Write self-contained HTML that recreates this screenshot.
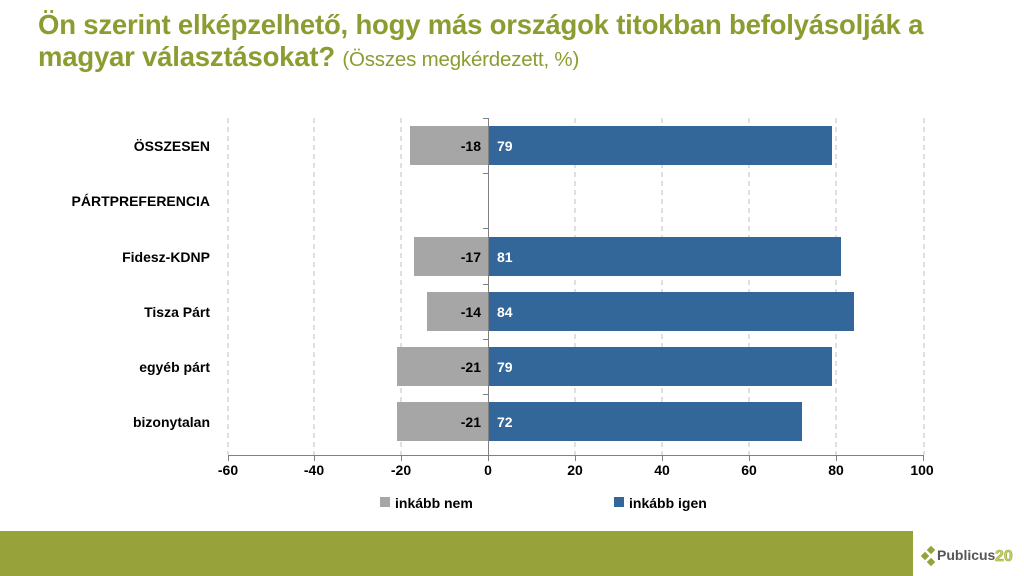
<!DOCTYPE html>
<html><head><meta charset="utf-8"><style>
body{margin:0;width:1024px;height:576px;background:#fff;overflow:hidden;position:relative;font-family:"Liberation Sans",sans-serif}
.t{position:absolute;left:38px;top:9px;color:#8c9c30;font-weight:bold;font-size:27.5px;line-height:32px;letter-spacing:-0.2px}
.t span{font-weight:normal;font-size:20.5px}
</style></head><body>
<div class="t">Ön szerint elképzelhető, hogy más országok titokban befolyásolják a<br>magyar választásokat? <span>(Összes megkérdezett, %)</span></div>
<svg width="1024" height="576" style="position:absolute;left:0;top:0" font-family="Liberation Sans, sans-serif">
<g stroke="#bfbfbf" stroke-dasharray="5,4">
<line x1="228" y1="118" x2="228" y2="455"/><line x1="314" y1="118" x2="314" y2="455"/><line x1="401" y1="118" x2="401" y2="455"/><line x1="575" y1="118" x2="575" y2="455"/><line x1="662" y1="118" x2="662" y2="455"/><line x1="749" y1="118" x2="749" y2="455"/><line x1="836" y1="118" x2="836" y2="455"/><line x1="924" y1="118" x2="924" y2="455"/>
</g>
<g>
<rect x="410" y="126" width="78" height="39" fill="#a6a6a6"/><rect x="488" y="126" width="344" height="39" fill="#336699"/>
<rect x="414" y="237" width="74" height="39" fill="#a6a6a6"/><rect x="488" y="237" width="353" height="39" fill="#336699"/>
<rect x="427" y="292" width="61" height="39" fill="#a6a6a6"/><rect x="488" y="292" width="366" height="39" fill="#336699"/>
<rect x="397" y="347" width="91" height="39" fill="#a6a6a6"/><rect x="488" y="347" width="344" height="39" fill="#336699"/>
<rect x="397" y="402" width="91" height="39" fill="#a6a6a6"/><rect x="488" y="402" width="314" height="39" fill="#336699"/>
</g>
<g stroke="#808080">
<line x1="488.5" y1="118" x2="488.5" y2="455"/>
<line x1="483" y1="118.5" x2="488" y2="118.5"/><line x1="483" y1="173.5" x2="488" y2="173.5"/><line x1="483" y1="228.5" x2="488" y2="228.5"/><line x1="483" y1="284.5" x2="488" y2="284.5"/><line x1="483" y1="339.5" x2="488" y2="339.5"/><line x1="483" y1="394.5" x2="488" y2="394.5"/>
<line x1="228" y1="455.5" x2="924" y2="455.5"/>
<line x1="228.5" y1="455" x2="228.5" y2="461"/><line x1="314.5" y1="455" x2="314.5" y2="461"/><line x1="401.5" y1="455" x2="401.5" y2="461"/><line x1="488.5" y1="455" x2="488.5" y2="461"/><line x1="575.5" y1="455" x2="575.5" y2="461"/><line x1="662.5" y1="455" x2="662.5" y2="461"/><line x1="749.5" y1="455" x2="749.5" y2="461"/><line x1="836.5" y1="455" x2="836.5" y2="461"/><line x1="923.5" y1="455" x2="923.5" y2="461"/>
</g>
<g font-size="14" font-weight="bold" fill="#000" text-anchor="end">
<text x="210" y="151">ÖSSZESEN</text><text x="210" y="206">PÁRTPREFERENCIA</text><text x="210" y="262">Fidesz-KDNP</text><text x="210" y="317">Tisza Párt</text><text x="210" y="372">egyéb párt</text><text x="210" y="427">bizonytalan</text>
<text x="481" y="151">-18</text><text x="481" y="262">-17</text><text x="481" y="317">-14</text><text x="481" y="372">-21</text><text x="481" y="427">-21</text>
</g>
<g font-size="14" font-weight="bold" fill="#fff">
<text x="497" y="151">79</text><text x="497" y="262">81</text><text x="497" y="317">84</text><text x="497" y="372">79</text><text x="497" y="427">72</text>
</g>
<g font-size="14" font-weight="bold" fill="#000" text-anchor="middle">
<text x="228" y="475">-60</text><text x="314" y="475">-40</text><text x="401" y="475">-20</text><text x="488" y="475">0</text><text x="575" y="475">20</text><text x="662" y="475">40</text><text x="749" y="475">60</text><text x="836" y="475">80</text><text x="922" y="475">100</text>
</g>
<rect x="380" y="497" width="10" height="10" fill="#a6a6a6"/><text x="395" y="508" font-size="14" font-weight="bold">inkább nem</text>
<rect x="614" y="497" width="10" height="10" fill="#336699"/><text x="629" y="508" font-size="14" font-weight="bold">inkább igen</text>
<rect x="0" y="531" width="913" height="45" fill="#97a33a"/>
<g fill="#97a33a"><rect x="922" y="553" width="6" height="6" transform="rotate(45 925 556)"/><rect x="928" y="547" width="6" height="6" transform="rotate(45 931 550)"/><rect x="928" y="559" width="6" height="6" transform="rotate(45 931 562)"/></g>
<text x="937" y="560" font-size="14" font-weight="bold" fill="#555">Publicus</text>
<text x="995" y="561" font-size="16" font-weight="bold" fill="#c8d46a" stroke="#97a33a" stroke-width="0.6">20</text>
</svg>
</body></html>
